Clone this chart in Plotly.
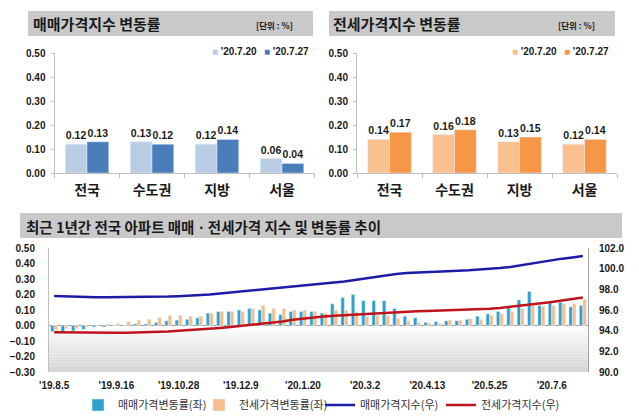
import plotly.graph_objects as go
import pandas as pd

W, H = 639, 418

# ---------------- data ----------------
regions = ['전국', '수도권', '지방', '서울']
sale_0720 = [0.12, 0.13, 0.12, 0.06]
sale_0727 = [0.13, 0.12, 0.14, 0.04]
jeonse_0720 = [0.14, 0.16, 0.13, 0.12]
jeonse_0727 = [0.17, 0.18, 0.15, 0.14]
legend_labels = ["'20.7.20", "'20.7.27"]

week_dates = pd.date_range('2019-08-05', periods=52, freq='7D')
weeks = [f"'{d.year % 100}.{d.month}.{d.day}" for d in week_dates]
tick_labels = ["'19.8.5", "'19.9.16", "'19.10.28", "'19.12.9", "'20.1.20",
               "'20.3.2", "'20.4.13", "'20.5.25", "'20.7.6"]

sale_chg = [-0.04, -0.04, -0.035, -0.025, -0.01, -0.01, 0.00, 0.00, 0.01, 0.01, 0.02,
            0.03, 0.035, 0.04, 0.05, 0.08, 0.09, 0.09, 0.10, 0.11, 0.10, 0.08, 0.07, 0.09, 0.09, 0.09,
            0.08, 0.14, 0.18, 0.20, 0.16, 0.16, 0.16, 0.11, 0.06, 0.05, 0.02, 0.025, 0.03, 0.03,
            0.04, 0.06, 0.075, 0.09, 0.115, 0.165, 0.22, 0.13, 0.145, 0.15, 0.12, 0.13]
jeonse_chg = [-0.03, -0.02, -0.02, -0.01, 0.00, 0.01, 0.013, 0.025, 0.035, 0.04, 0.05,
              0.065, 0.065, 0.06, 0.06, 0.08, 0.09, 0.09, 0.09, 0.11, 0.13, 0.11, 0.11, 0.10, 0.10, 0.09,
              0.08, 0.10, 0.10, 0.09, 0.06, 0.065, 0.065, 0.045, 0.03, 0.02, 0.015, 0.015, 0.035, 0.035,
              0.045, 0.04, 0.065, 0.075, 0.09, 0.11, 0.13, 0.125, 0.13, 0.14, 0.14, 0.17]
sale_idx = [97.35, 97.31, 97.27, 97.25, 97.24, 97.23, 97.23, 97.23, 97.24, 97.25, 97.26,
            97.30, 97.34, 97.38, 97.43, 97.51, 97.60, 97.69, 97.79, 97.90, 98.00, 98.08, 98.15,
            98.24, 98.33, 98.42, 98.50, 98.62, 98.75, 98.90, 99.05, 99.20, 99.35, 99.48, 99.57,
            99.63, 99.68, 99.72, 99.76, 99.80, 99.84, 99.90, 99.97, 100.06, 100.17, 100.33, 100.55,
            100.68, 100.82, 100.97, 101.09, 101.22]
jeonse_idx = [93.85, 93.83, 93.82, 93.81, 93.80, 93.80, 93.80, 93.81, 93.82, 93.84, 93.87,
              93.92, 93.98, 94.04, 94.10, 94.18, 94.27, 94.36, 94.45, 94.55, 94.67, 94.78, 94.88,
              95.05, 95.17, 95.27, 95.36, 95.44, 95.50, 95.56, 95.62, 95.69, 95.75, 95.80, 95.84,
              95.87, 95.90, 95.93, 95.96, 96.00, 96.03, 96.08, 96.13, 96.20, 96.30, 96.40, 96.52,
              96.65, 96.78, 96.92, 97.07, 97.22]

# ---------------- helpers ----------------
def px(x):
    return x / W

def py(y):
    return 1 - y / H

NUM = 'Liberation Sans, Noto Sans CJK KR, sans-serif'
KR = 'Noto Sans CJK KR, sans-serif'
TXT = '#1a1a1a'

C_S1, C_S2 = '#b9cde5', '#4a7ebb'
C_J1, C_J2 = '#fac090', '#f79646'
C_SB, C_JB = '#2ea1cf', '#f5bf8d'
C_SL, C_JL = '#1c1ca6', '#c0141c'

fig = go.Figure()

label_font = dict(family=NUM, size=10.5, color=TXT, weight='bold')
# Panel 1
fig.add_bar(x=regions, y=sale_0720, marker_color=C_S1, text=[f'{v:.2f}' for v in sale_0720],
            textposition='outside', textfont=label_font, cliponaxis=False, showlegend=False,
            xaxis='x', yaxis='y', name=legend_labels[0])
fig.add_bar(x=regions, y=sale_0727, marker_color=C_S2, text=[f'{v:.2f}' for v in sale_0727],
            textposition='outside', textfont=label_font, cliponaxis=False, showlegend=False,
            xaxis='x', yaxis='y', name=legend_labels[1])
# Panel 2
fig.add_bar(x=regions, y=jeonse_0720, marker_color=C_J1, text=[f'{v:.2f}' for v in jeonse_0720],
            textposition='outside', textfont=label_font, cliponaxis=False, showlegend=False,
            xaxis='x2', yaxis='y2', name=legend_labels[0])
fig.add_bar(x=regions, y=jeonse_0727, marker_color=C_J2, text=[f'{v:.2f}' for v in jeonse_0727],
            textposition='outside', textfont=label_font, cliponaxis=False, showlegend=False,
            xaxis='x2', yaxis='y2', name=legend_labels[1])
# Panel 3
fig.add_bar(x=weeks, y=sale_chg, marker_color=C_SB, name='매매가격변동률(좌)', xaxis='x3', yaxis='y3')
fig.add_bar(x=weeks, y=jeonse_chg, marker_color=C_JB, name='전세가격변동률(좌)', xaxis='x3', yaxis='y3')
fig.add_scatter(x=weeks, y=sale_idx, mode='lines', line=dict(color=C_SL, width=2.5),
                name='매매가격지수(우)', xaxis='x3', yaxis='y4')
fig.add_scatter(x=weeks, y=jeonse_idx, mode='lines', line=dict(color=C_JL, width=2.5),
                name='전세가격지수(우)', xaxis='x3', yaxis='y4')

ax_common = dict(showgrid=False, zeroline=False, showline=True, linecolor='#bfbfbf',
                 ticks='outside', tickcolor='#bfbfbf')
cat_font = dict(family=KR, size=14, color=TXT, weight='bold')
ytick_font = dict(family=NUM, size=10, color=TXT, weight='bold')

shapes = []
# header bars
for (x0, x1, y0, y1) in [(28, 313, 11, 36), (329, 615, 11, 36), (20, 622, 213, 238)]:
    shapes.append(dict(type='rect', xref='paper', yref='paper', x0=px(x0), x1=px(x1),
                       y0=py(y1), y1=py(y0), fillcolor='#c9c9c9', line_width=0, layer='below'))
# gradient background for panel 3 (lower part)
n = 15
for i in range(n):
    top = 0.0 - i * 0.30 / n
    bot = 0.0 - (i + 1) * 0.30 / n
    g = int(255 - (255 - 212) * (i + 0.5) / n)
    shapes.append(dict(type='rect', xref='x3 domain', yref='y3', x0=0, x1=1, y0=max(bot, -0.3), y1=top,
                       fillcolor=f'rgb({g},{g},{g})', line_width=0, layer='below'))

annotations = []
def add_text(x, y, text, size, color=TXT, family=KR, weight='normal', xanchor='left'):
    annotations.append(dict(xref='paper', yref='paper', x=px(x), y=py(y), text=text, showarrow=False,
                            xanchor=xanchor, yanchor='middle',
                            font=dict(family=family, size=size, color=color, weight=weight)))

add_text(31, 24, '매매가격지수 변동률', 15, weight='bold')
add_text(331, 24, '전세가격지수 변동률', 15, weight='bold')
add_text(24, 226, '최근 1년간 전국 아파트 매매ㆍ전세가격 지수 및 변동률 추이', 14.5, weight='bold')
add_text(254, 25, '[단위 : %]', 8.5, weight='bold')
add_text(556, 25, '[단위 : %]', 8.5, weight='bold')
# compact legends for panels 1 and 2
for (xs, cols) in [((210, 262), (C_S1, C_S2)), ((510, 562), (C_J1, C_J2))]:
    for xx, cc, lab in zip(xs, cols, legend_labels):
        add_text(xx, 51, f"<span style='color:{cc}'>■</span> {lab}", 10, family=NUM, weight='bold')

fig.update_layout(
    width=W, height=H, margin=dict(l=0, r=0, t=0, b=0, autoexpand=False),
    paper_bgcolor='white', plot_bgcolor='rgba(0,0,0,0)',
    barmode='group', bargap=0.33, bargroupgap=0,
    shapes=shapes, annotations=annotations,
    xaxis=dict(domain=[px(54.5), px(314.5)], anchor='y', tickson='boundaries', tickfont=cat_font,
               ticklen=4, ticklabelstandoff=4, **ax_common),
    yaxis=dict(domain=[py(173), py(53)], anchor='x', range=[0, 0.5], tickvals=[0, 0.1, 0.2, 0.3, 0.4, 0.5],
               tickformat='.2f', tickfont=ytick_font, ticklen=3, ticklabelstandoff=3, **ax_common),
    xaxis2=dict(domain=[px(357), px(617)], anchor='y2', tickson='boundaries', tickfont=cat_font,
                ticklen=4, ticklabelstandoff=4, **ax_common),
    yaxis2=dict(domain=[py(173), py(53)], anchor='x2', range=[0, 0.5], tickvals=[0, 0.1, 0.2, 0.3, 0.4, 0.5],
                tickformat='.2f', tickfont=ytick_font, ticklen=3, ticklabelstandoff=3, **ax_common),
    xaxis3=dict(domain=[px(49), px(588)], anchor='y3', type='category', range=[-0.5, 51.5],
                tickvals=tick_labels, ticktext=tick_labels, showgrid=False, zeroline=False,
                showline=False, ticks='', tickfont=dict(family=NUM, size=10, color=TXT, weight='bold'),
                ticklabelstandoff=6),
    yaxis3=dict(domain=[py(372), py(248)], anchor='x3', range=[-0.3, 0.5],
                tickvals=[-0.3, -0.2, -0.1, 0, 0.1, 0.2, 0.3, 0.4, 0.5], tickformat='.2f',
                tickfont=ytick_font, showgrid=False, zeroline=True, zerolinecolor='#9a9a9a',
                zerolinewidth=1, showline=True, linecolor='#bfbfbf', ticks='', ticklabelstandoff=11),
    yaxis4=dict(overlaying='y3', anchor='x3', side='right', range=[90, 102],
                tickvals=[90, 92, 94, 96, 98, 100, 102], tickformat='.1f', tickfont=ytick_font,
                showgrid=False, zeroline=False, showline=True, linecolor='#a6a6a6', ticks='',
                ticklabelstandoff=8),
    legend=dict(orientation='h', x=px(78), y=py(405), xanchor='left', yanchor='middle',
                font=dict(family=KR, size=11, color='#333333'), entrywidth=76, entrywidthmode='pixels',
                itemwidth=30, bgcolor='rgba(0,0,0,0)', traceorder='normal'),
)

fig.write_html('out.html', config={'displayModeBar': False},
               post_script="document.body.style.margin='0';document.body.style.padding='0';")
